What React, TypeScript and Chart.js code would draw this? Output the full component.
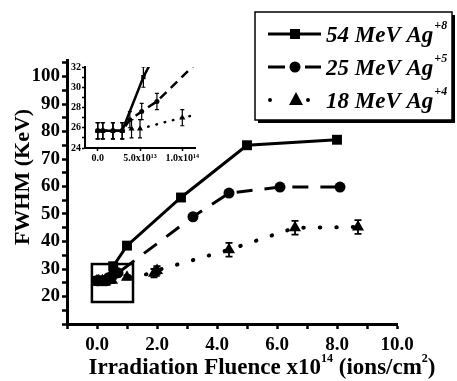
import React, { useEffect, useRef } from 'react';
import { Chart, registerables } from 'chart.js';

Chart.register(...registerables);

// Fluence in units of 1e14 ions/cm^2, FWHM in keV
const ag54Fluence = [0, 0.06, 0.18, 0.29, 0.54, 1.0, 2.8, 5.0, 8.0];
const ag54Fwhm = [25.7, 25.7, 25.7, 25.7, 31.0, 38.5, 56, 75, 77];
const ag54Err = [0.8, 0.8, 0.8, 0.8, 1.0, 0, 0, 0, 0];

const ag25Fluence = [0, 0.06, 0.18, 0.29, 0.38, 0.52, 0.7, 3.2, 4.4, 6.1, 8.1];
const ag25Fwhm = [25.7, 25.7, 25.7, 25.7, 26.8, 27.6, 28.6, 49, 57.6, 59.8, 59.8];
const ag25Err = [0.8, 0.8, 0.8, 0.8, 0.8, 0.8, 0.8, 0, 0, 0, 0];

const ag18Fluence = [0, 0.06, 0.18, 0.29, 0.4, 0.5, 1.0, 1.9, 2.0, 4.4, 6.6, 8.7];
const ag18Fwhm = [25.7, 25.7, 25.7, 25.7, 25.9, 25.9, 27.0, 28.5, 29.5, 37, 45, 45.3];
const ag18Err = [0.8, 0.8, 0.8, 0.8, 0.9, 0.9, 0.8, 1.5, 1.5, 2.5, 2.5, 2.5];

const seriesNames = ['54 MeV Ag', '25 MeV Ag', '18 MeV Ag'];
const seriesCharges = ['+8', '+5', '+4'];

const mainXLabels = [0, 2, 4, 6, 8, 10];
const mainYLabels = [20, 30, 40, 50, 60, 70, 80, 90, 100];
const insetYLabels = [24, 26, 28, 30, 32];
const insetXLabels = [0, 0.5, 1.0];
const insetXTexts = ['0.0', '5.0x10¹³', '1.0x10¹⁴'];

const zoomBoxX = [-0.17, 1.2];
const zoomBoxY = [18, 31.8];

const SERIF = '"Liberation Serif", "Times New Roman", serif';

function pts(xs: number[], ys: number[]) {
  return xs.map((x, i) => ({ x, y: ys[i] }));
}

const errors = [ag54Err, ag25Err, ag18Err];

function makeDatasets(inset: boolean) {
  return [
    {
      label: seriesNames[0],
      data: pts(ag54Fluence, ag54Fwhm),
      borderColor: '#000',
      backgroundColor: '#000',
      borderWidth: inset ? 2.5 : 3,
      pointStyle: 'rect',
      pointRadius: inset ? 3 : 7,
      pointBorderWidth: 0,
    },
    {
      label: seriesNames[1],
      data: pts(ag25Fluence, ag25Fwhm),
      borderColor: '#000',
      backgroundColor: '#000',
      borderWidth: inset ? 2.5 : 3,
      borderDash: inset ? [9, 6] : [16, 12],
      pointStyle: 'circle',
      pointRadius: inset ? 2.5 : 5.5,
      pointBorderWidth: 0,
    },
    {
      label: seriesNames[2],
      data: pts(ag18Fluence, ag18Fwhm),
      borderColor: '#000',
      backgroundColor: '#000',
      borderWidth: inset ? 2.5 : 4,
      borderDash: inset ? [0.5, 8] : [0.5, 16],
      borderCapStyle: 'round',
      pointStyle: 'triangle',
      pointRadius: inset ? 3.5 : 7,
      pointBorderWidth: 0,
    },
  ].map((d) => ({ ...d, showLine: true, tension: 0, fill: false }));
}

const errorBarPlugin = (cap: number, lw: number) => ({
  id: 'errorBars',
  afterDatasetsDraw(chart: any) {
    const { ctx, chartArea } = chart;
    const xs = chart.scales.x;
    const ys = chart.scales.y;
    ctx.save();
    ctx.beginPath();
    ctx.rect(chartArea.left, chartArea.top, chartArea.right - chartArea.left, chartArea.bottom - chartArea.top);
    ctx.clip();
    ctx.strokeStyle = '#000';
    ctx.lineWidth = lw;
    chart.data.datasets.forEach((ds: any, di: number) => {
      const err = errors[di];
      ds.data.forEach((p: any, i: number) => {
        const e = err[i];
        if (!e) return;
        const px = xs.getPixelForValue(p.x);
        const y1 = ys.getPixelForValue(p.y - e);
        const y2 = ys.getPixelForValue(p.y + e);
        ctx.beginPath();
        ctx.moveTo(px, y1);
        ctx.lineTo(px, y2);
        ctx.moveTo(px - cap, y1);
        ctx.lineTo(px + cap, y1);
        ctx.moveTo(px - cap, y2);
        ctx.lineTo(px + cap, y2);
        ctx.stroke();
      });
    });
    ctx.restore();
  },
});

type Seg = { t: string; sup?: boolean };

function drawRich(ctx: CanvasRenderingContext2D, segs: Seg[], cx: number, cy: number, font: (sup: boolean) => string, supRise: number) {
  let total = 0;
  segs.forEach((s) => {
    ctx.font = font(!!s.sup);
    total += ctx.measureText(s.t).width;
  });
  let x = cx - total / 2;
  ctx.textBaseline = 'middle';
  ctx.textAlign = 'left';
  segs.forEach((s) => {
    ctx.font = font(!!s.sup);
    ctx.fillText(s.t, x, s.sup ? cy - supRise : cy);
    x += ctx.measureText(s.t).width;
  });
}

const decorPlugin = {
  id: 'decor',
  afterDraw(chart: any) {
    const { ctx } = chart;
    const xs = chart.scales.x;
    const ys = chart.scales.y;
    ctx.save();
    ctx.fillStyle = '#000';
    ctx.strokeStyle = '#000';
    // zoom box
    ctx.lineWidth = 2.5;
    const bx1 = xs.getPixelForValue(zoomBoxX[0]);
    const bx2 = xs.getPixelForValue(zoomBoxX[1]);
    const by1 = ys.getPixelForValue(zoomBoxY[1]);
    const by2 = ys.getPixelForValue(zoomBoxY[0]);
    ctx.strokeRect(bx1, by1, bx2 - bx1, by2 - by1);

    // x title
    drawRich(
      ctx,
      [{ t: 'Irradiation Fluence x10' }, { t: '14', sup: true }, { t: ' (ions/cm' }, { t: '2', sup: true }, { t: ')' }],
      262,
      368,
      (sup) => `bold ${sup ? 12 : 23}px ${SERIF}`,
      9
    );
    // y title
    ctx.save();
    ctx.translate(23, 177);
    ctx.rotate(-Math.PI / 2);
    ctx.font = `bold 22px ${SERIF}`;
    ctx.textAlign = 'center';
    ctx.textBaseline = 'middle';
    ctx.fillText('FWHM (KeV)', 0, 0);
    ctx.restore();

    // legend
    const L = 255, T = 12, W = 197, H = 108;
    ctx.fillStyle = '#000';
    ctx.fillRect(L + 3, T + 3, W, H);
    ctx.fillStyle = '#fff';
    ctx.fillRect(L, T, W, H);
    ctx.lineWidth = 1.5;
    ctx.strokeRect(L, T, W, H);
    ctx.fillStyle = '#000';
    const rows = [34, 67, 100];
    rows.forEach((ry, i) => {
      ctx.lineWidth = 3;
      ctx.lineCap = 'butt';
      if (i === 0) {
        ctx.beginPath();
        ctx.moveTo(268, ry);
        ctx.lineTo(321, ry);
        ctx.stroke();
        ctx.fillRect(290, ry - 5, 10, 10);
      } else if (i === 1) {
        ctx.beginPath();
        ctx.moveTo(268, ry);
        ctx.lineTo(285, ry);
        ctx.moveTo(305, ry);
        ctx.lineTo(321, ry);
        ctx.stroke();
        ctx.beginPath();
        ctx.arc(295, ry, 5.5, 0, Math.PI * 2);
        ctx.fill();
      } else {
        ctx.beginPath();
        ctx.arc(270, ry, 2, 0, Math.PI * 2);
        ctx.arc(308, ry, 2, 0, Math.PI * 2);
        ctx.fill();
        ctx.beginPath();
        ctx.moveTo(296, ry - 8);
        ctx.lineTo(303, ry + 5);
        ctx.lineTo(289, ry + 5);
        ctx.closePath();
        ctx.fill();
      }
      ctx.font = `italic bold 23px ${SERIF}`;
      ctx.textAlign = 'left';
      ctx.textBaseline = 'middle';
      ctx.fillText(seriesNames[i], 326, ry + 2);
      const w = ctx.measureText(seriesNames[i]).width;
      ctx.font = `italic bold 12px ${SERIF}`;
      ctx.fillText(seriesCharges[i], 326 + w + 1, ry - 8);
    });
    ctx.restore();
  },
};

export default function App() {
  const mainRef = useRef<HTMLCanvasElement>(null);
  const insetRef = useRef<HTMLCanvasElement>(null);

  useEffect(() => {
    document.body.style.margin = '0';
    const main = new Chart(mainRef.current!, {
      type: 'scatter',
      data: { datasets: makeDatasets(false) as any },
      options: {
        animation: false,
        responsive: false,
        layout: { padding: { left: 0, right: 60, top: 60, bottom: 0 }, autoPadding: false },
        plugins: { legend: { display: false }, tooltip: { enabled: false } },
        scales: {
          x: {
            type: 'linear',
            min: -1,
            max: 10,
            afterFit: (s: any) => { s.height = 57; },
            border: { display: true, width: 3, color: '#000' },
            grid: { drawOnChartArea: false, drawTicks: true, tickLength: 5, tickWidth: 2.5, tickColor: '#000' },
            ticks: {
              stepSize: 1,
              includeBounds: false,
              autoSkip: false,
              maxRotation: 0,
              color: '#000',
              padding: 5,
              font: { family: SERIF, size: 19, weight: 'bold' },
              callback: (v: any) => (mainXLabels.includes(Number(v)) ? Number(v).toFixed(1) : ''),
            },
          },
          y: {
            type: 'linear',
            min: 10,
            max: 106,
            afterFit: (s: any) => { s.width = 67; },
            border: { display: true, width: 3, color: '#000' },
            grid: { drawOnChartArea: false, drawTicks: true, tickLength: 5, tickWidth: 2.5, tickColor: '#000' },
            ticks: {
              stepSize: 5,
              includeBounds: false,
              autoSkip: false,
              color: '#000',
              padding: 2,
              font: { family: SERIF, size: 19, weight: 'bold' },
              callback: (v: any) => (mainYLabels.includes(Number(v)) ? String(v) : ''),
            },
          },
        },
      } as any,
      plugins: [errorBarPlugin(3.5, 1.8), decorPlugin],
    });

    const inset = new Chart(insetRef.current!, {
      type: 'scatter',
      data: { datasets: makeDatasets(true) as any },
      options: {
        animation: false,
        responsive: false,
        layout: { padding: { left: 0, right: 15, top: 12, bottom: 0 }, autoPadding: false },
        plugins: { legend: { display: false }, tooltip: { enabled: false } },
        scales: {
          x: {
            type: 'linear',
            min: -0.15,
            max: 1.15,
            afterFit: (s: any) => { s.height = 22; },
            border: { display: true, width: 2, color: '#000' },
            grid: { drawOnChartArea: false, drawTicks: true, tickLength: 3, tickWidth: 1.5, tickColor: '#000' },
            ticks: {
              stepSize: 0.5,
              includeBounds: false,
              autoSkip: false,
              maxRotation: 0,
              color: '#000',
              padding: 1,
              font: { family: SERIF, size: 10, weight: 'bold' },
              callback: (v: any) => {
                const i = insetXLabels.indexOf(Number(v));
                return i >= 0 ? insetXTexts[i] : '';
              },
            },
          },
          y: {
            type: 'linear',
            min: 24,
            max: 32,
            afterFit: (s: any) => { s.width = 45; },
            border: { display: true, width: 2, color: '#000' },
            grid: { drawOnChartArea: false, drawTicks: true, tickLength: 3, tickWidth: 1.5, tickColor: '#000' },
            ticks: {
              stepSize: 1,
              autoSkip: false,
              color: '#000',
              padding: 1,
              font: { family: SERIF, size: 10, weight: 'bold' },
              callback: (v: any) => (insetYLabels.includes(Number(v)) ? String(v) : ''),
            },
          },
        },
      } as any,
      plugins: [errorBarPlugin(2, 1.2)],
    });

    return () => {
      main.destroy();
      inset.destroy();
    };
  }, []);

  return (
    <div style={{ position: 'absolute', left: 0, top: 0, width: 457, height: 381, background: '#fff' }}>
      <canvas ref={mainRef} width={457} height={381} style={{ position: 'absolute', left: 0, top: 0 }} />
      <canvas ref={insetRef} width={170} height={115} style={{ position: 'absolute', left: 40, top: 55 }} />
    </div>
  );
}
